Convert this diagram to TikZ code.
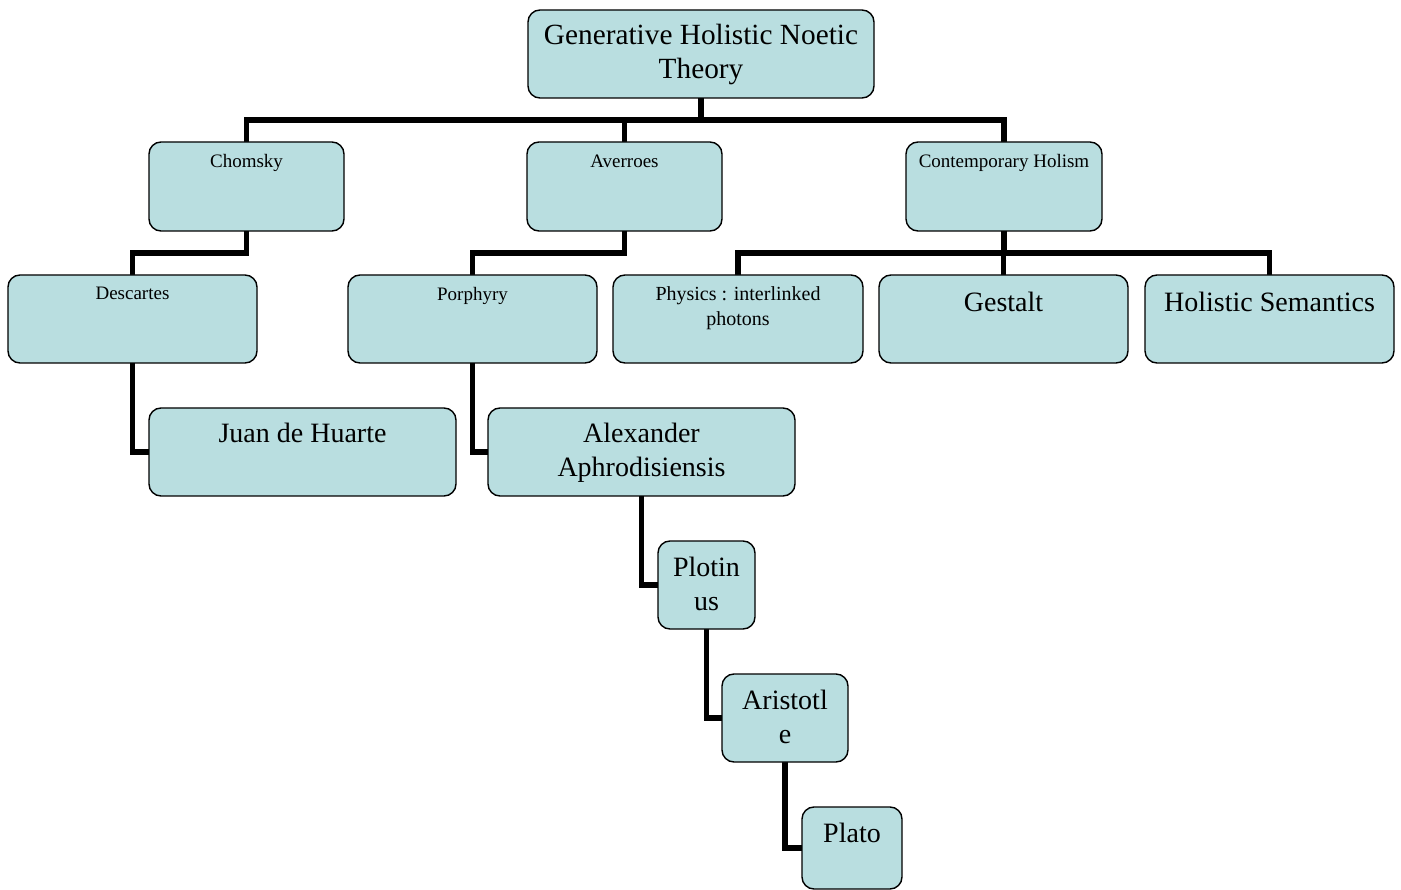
\documentclass[tikz,border=0pt]{standalone}
\usepackage{fontspec}
\setmainfont{Liberation Serif}
\usetikzlibrary{calc,backgrounds}
\definecolor{boxfill}{RGB}{185,222,224}
\tikzset{
  box/.style={draw=black, line width=1.4pt, fill=boxfill, rounded corners=12pt, inner sep=0pt, outer sep=0pt},
  bigtxt/.style={font=\fontsize{28}{33.5}\selectfont, align=center, anchor=north, inner sep=0pt},
  roottxt/.style={font=\fontsize{29.3}{34.5}\selectfont, align=center, anchor=north, inner sep=0pt},
  smalltxt/.style={font=\fontsize{19}{25}\selectfont, align=center, anchor=north, inner sep=0pt},
  midtxt/.style={font=\fontsize{20}{25}\selectfont, align=center, anchor=north, inner sep=0pt},
  link/.style={line width=5.5pt, draw=black}
}
\newcommand{\bx}[5]{\node[box, minimum width=#4pt, minimum height=#5pt] (#1) at (#2,#3) {};}
\begin{document}
\begin{tikzpicture}[x=1pt,y=-1pt]
\useasboundingbox (0,0) rectangle (1401,890);
% boxes
\bx{root}{701}{54}{346}{88}
\bx{chomsky}{246.5}{186.5}{195}{89}
\bx{averroes}{624.5}{186.5}{195}{89}
\bx{holism}{1004}{186.5}{196}{89}
\bx{descartes}{132.5}{319}{249}{88}
\bx{porphyry}{472.5}{319}{249}{88}
\bx{physics}{738}{319}{250}{88}
\bx{gestalt}{1003.5}{319}{249}{88}
\bx{semantics}{1269.5}{319}{249}{88}
\bx{juan}{302.5}{452}{307}{88}
\bx{alexander}{641.5}{452}{307}{88}
\bx{plotinus}{706.5}{585}{97}{88}
\bx{aristotle}{785}{718}{126}{88}
\bx{plato}{852}{848}{100}{82}
% texts
\node[roottxt] (root-t) at ($(root.north)+(0,13.5)$) {Generative Holistic Noetic\\Theory};
\node[smalltxt] (chomsky-t) at ($(chomsky.north)+(0,12)$) {Chomsky};
\node[smalltxt] (averroes-t) at ($(averroes.north)+(0,12.5)$) {Averroes};
\node[smalltxt] (holism-t) at ($(holism.north)+(0,12)$) {Contemporary Holism};
\node[smalltxt] (descartes-t) at ($(descartes.north)+(0,12)$) {Descartes};
\node[smalltxt] (porphyry-t) at ($(porphyry.north)+(0,12)$) {Porphyry};
\node[midtxt] (physics-t) at ($(physics.north)+(0,11.5)$) {Physics : interlinked\\photons};
\node[bigtxt] (gestalt-t) at ($(gestalt.north)+(0,16.5)$) {Gestalt};
\node[bigtxt] (semantics-t) at ($(semantics.north)+(0,16.5)$) {Holistic Semantics};
\node[bigtxt] (juan-t) at ($(juan.north)+(0,15)$) {Juan de Huarte};
\node[bigtxt] (alexander-t) at ($(alexander.north)+(0,15)$) {Alexander\\Aphrodisiensis};
\node[bigtxt] (plotinus-t) at ($(plotinus.north)+(0,16)$) {Plotin\\us};
\node[bigtxt] (aristotle-t) at ($(aristotle.north)+(0,16)$) {Aristotl\\e};
\node[bigtxt] (plato-t) at ($(plato.north)+(0,16)$) {Plato};
% connectors
\begin{scope}[on background layer]
\foreach \c in {chomsky,averroes,holism}
  \draw[link] (root.south) |- ($(root.south)!0.5!(\c.north)$) -| (\c.north);
\draw[link] (chomsky.south) |- ($(chomsky.south)!0.5!(descartes.north)$) -| (descartes.north);
\draw[link] (averroes.south) |- ($(averroes.south)!0.5!(porphyry.north)$) -| (porphyry.north);
\foreach \c in {physics,gestalt,semantics}
  \draw[link] (holism.south) |- ($(holism.south)!0.5!(\c.north)$) -| (\c.north);
\draw[link] (descartes.south) |- (juan.west);
\draw[link] (porphyry.south) |- (alexander.west);
\draw[link] (alexander.south) |- (plotinus.west);
\draw[link] (plotinus.south) |- (aristotle.west);
\draw[link] (aristotle.south) |- (plato.west);
\end{scope}
\end{tikzpicture}
\end{document}
